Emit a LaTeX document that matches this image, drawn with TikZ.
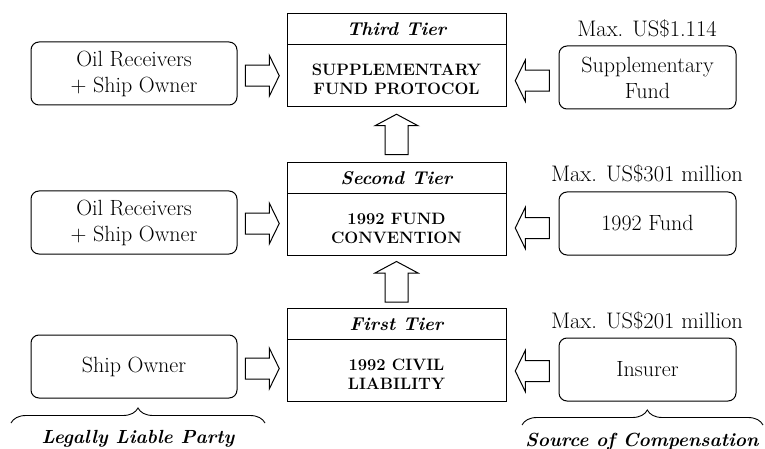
\documentclass[tikz,border=0pt]{standalone}
\usepackage{fontspec}
\setmainfont{Latin Modern Roman}
\usetikzlibrary{decorations.pathreplacing,calc}
\newcommand\bodystrut{\rule{0pt}{19pt}}
\begin{document}
\begin{tikzpicture}[x=1pt,y=-1pt,
  party/.style={draw,rounded corners=8pt,line width=1pt,minimum width=206pt,minimum height=63pt,align=center,inner sep=0pt,font=\fontsize{22}{26}\selectfont},
  source/.style={draw,rounded corners=8pt,line width=1pt,minimum width=177pt,minimum height=63pt,align=center,inner sep=0pt,font=\fontsize{22}{26}\selectfont},
  tiertitle/.style={draw,line width=1pt,minimum width=219pt,minimum height=31pt,inner sep=0pt,outer sep=0pt,font=\fontsize{18.5}{20}\selectfont\bfseries\itshape},
  tierbody/.style={draw,line width=1pt,minimum width=219pt,minimum height=62pt,inner sep=0pt,outer sep=0pt,align=center,anchor=north,font=\fontsize{16.5}{19}\selectfont\bfseries},
  maxlabel/.style={anchor=base,inner sep=0pt,font=\fontsize{22.5}{24}\selectfont},
  sidelabel/.style={anchor=base,inner sep=0pt,font=\fontsize{19}{22}\selectfont\bfseries\itshape},
  blockarrow/.style={draw,line width=1pt,fill=white},
  rblock/.pic={\draw[blockarrow] (-17,-10.5) -- (7,-10.5) -- (7,-20.5) -- (17,0) -- (7,20.5) -- (7,10.5) -- (-17,10.5) -- cycle;},
  lblock/.pic={\draw[blockarrow] (17,-10.5) -- (-7,-10.5) -- (-7,-20.5) -- (-17,0) -- (-7,20.5) -- (-7,10.5) -- (17,10.5) -- cycle;},
  ublock/.pic={\draw[blockarrow] (-11.5,20) -- (-11.5,-9) -- (-21.5,-9) -- (0,-20.5) -- (21.5,-9) -- (11.5,-9) -- (11.5,20) -- cycle;},
  bracestyle/.style={decorate,decoration={brace,amplitude=15pt},line width=0.9pt}
]
\useasboundingbox (0,0) rectangle (765,449);

% tiers
\node[tiertitle] (t3t) at (396.5,29.5) {Third Tier};
\node[tierbody]  (t3b) at (t3t.south) {\bodystrut SUPPLEMENTARY\\FUND PROTOCOL};
\node[tiertitle] (t2t) at (396.5,178) {Second Tier};
\node[tierbody]  (t2b) at (t2t.south) {\bodystrut 1992 FUND\\CONVENTION};
\node[tiertitle] (t1t) at (396.5,324) {First Tier};
\node[tierbody]  (t1b) at (t1t.south) {\bodystrut 1992 CIVIL\\LIABILITY};

% parties
\node[party] (p3) at (134,73.5) {Oil Receivers\\+ Ship Owner};
\node[party] (p2) at (134,222.5) {Oil Receivers\\+ Ship Owner};
\node[party] (p1) at (134,366.5) {Ship Owner};

% sources
\node[source] (s3) at (647.5,77.5) {Supplementary\\Fund};
\node[source] (s2) at (647.5,223.5) {1992 Fund};
\node[source] (s1) at (647.5,369.5) {Insurer};

\node[maxlabel] (m3) at (647,37) {Max. US\$1.114};
\node[maxlabel] (m2) at (647,182) {Max. US\$301 million};
\node[maxlabel] (m1) at (647,328) {Max. US\$201 million};

% block arrows
\coordinate (ra3) at ($(p3.east)!0.5!(t3b.west)+(0,1)$);
\coordinate (ra2) at ($(p2.east)!0.5!(t2b.west)$);
\coordinate (ra1) at ($(p1.east)!0.5!(t1b.west)$);
\pic at (ra3) {rblock};
\pic at (ra2) {rblock};
\pic at (ra1) {rblock};

\coordinate (la3) at ($(t3b.east)!0.5!(s3.west)+(0,4)$);
\coordinate (la2) at ($(t2b.east)!0.5!(s2.west)+(0,4)$);
\coordinate (la1) at ($(t1b.east)!0.5!(s1.west)+(0,1)$);
\pic at (la3) {lblock};
\pic at (la2) {lblock};
\pic at (la1) {lblock};

\coordinate (ua2) at ($(t2t.north)!0.5!(t3b.south)$);
\coordinate (ua1) at ($(t1t.north)!0.5!(t2b.south)$);
\pic at (ua2) {ublock};
\pic at (ua1) {ublock};

% braces
\coordinate (lb1) at (11,423);
\coordinate (lb2) at (265,423);
\coordinate (rb1) at (522,425);
\coordinate (rb2) at (763,425);
\draw[bracestyle] (lb1) -- (lb2);
\draw[bracestyle,decoration={aspect=0.52}] (rb1) -- (rb2);

\node[sidelabel] (ll) at (138,443) {Legally Liable Party};
\node[sidelabel] (sc) at (642,446) {Source of Compensation};
\end{tikzpicture}
\end{document}
